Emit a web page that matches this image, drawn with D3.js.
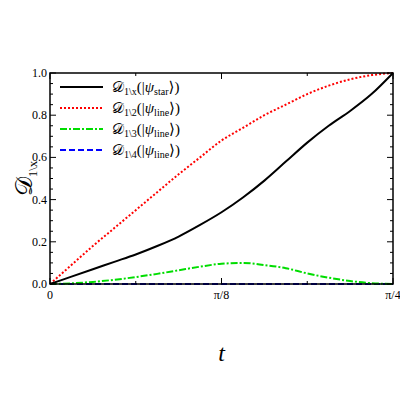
<!DOCTYPE html>
<html><head><meta charset="utf-8">
<script src="https://cdn.jsdelivr.net/npm/d3@7"></script>
<style>body{margin:0;background:#fff}text{font-family:"Liberation Serif","DejaVu Serif",serif}</style>
</head><body><div id="c"></div>
<script>
// t in units of pi/4, sampled every 1/16
const tVals = d3.range(17).map(k => k / 16);
const blackVals = [0, .035, .07, .105, .14, .18, .225, .28, .34, .41, .49, .58, .67, .75, .82, .90, 1.0];
const redVals = [0, .09, .18, .265, .35, .435, .52, .60, .68, .74, .80, .85, .90, .94, .97, .99, 1.0];
const greenVals = [0, .003, .01, .02, .033, .048, .065, .082, .096, .1, .09, .075, .05, .03, .014, .004, 0];
const blueVals = tVals.map(() => 0);
const xTicks = [0, 0.5, 1];
const xTickLabels = ['0', 'π/8', 'π/4'];
const yTicks = [0, 0.2, 0.4, 0.6, 0.8, 1.0];

const series = [
  {vals: blueVals, color: '#0000ff', dash: '6,3', sub: '4', psi: 'line'},
  {vals: greenVals, color: '#00dd00', dash: '7,2,2,2', sub: '3', psi: 'line'},
  {vals: redVals, color: '#ff0000', dash: '2,2', sub: '2', psi: 'line'},
  {vals: blackVals, color: '#000000', dash: null, sub: 'x', psi: 'star'}
];

const W = 400, H = 400, L = 50, R = 393, T = 73, B = 284;
const svg = d3.select('#c').append('svg').attr('width', W).attr('height', H);
const x = d3.scaleLinear().domain([0, 1]).range([L, R]);
const y = d3.scaleLinear().domain([0, 1]).range([B, T]);

const line = d3.line().x((d, i) => x(tVals[i])).y(d => y(d)).curve(d3.curveMonotoneX);
const g = svg.append('g');
series.forEach(s => g.append('path').attr('d', line(s.vals)).attr('fill', 'none')
  .attr('stroke', s.color).attr('stroke-width', 2).attr('stroke-dasharray', s.dash));

// frame
svg.append('rect').attr('x', L).attr('y', T).attr('width', R - L).attr('height', B - T)
  .attr('fill', 'none').attr('stroke', '#000').attr('stroke-width', 1.5);

const minorX = d3.range(0, 1.0001, 1 / 4);
const minorY = d3.range(0, 1.0001, 0.05);
minorX.forEach(v => {
  const major = xTicks.some(m => Math.abs(m - v) < 1e-6);
  const len = major ? 6 : 3;
  svg.append('line').attr('x1', x(v)).attr('x2', x(v)).attr('y1', B).attr('y2', B - len).attr('stroke', '#000');
  svg.append('line').attr('x1', x(v)).attr('x2', x(v)).attr('y1', T).attr('y2', T + len).attr('stroke', '#000');
});
minorY.forEach(v => {
  const major = Math.abs(v * 5 - Math.round(v * 5)) < 1e-6;
  const len = major ? 6 : 3;
  svg.append('line').attr('y1', y(v)).attr('y2', y(v)).attr('x1', L).attr('x2', L + len).attr('stroke', '#000');
  svg.append('line').attr('y1', y(v)).attr('y2', y(v)).attr('x1', R).attr('x2', R - len).attr('stroke', '#000');
});
xTicks.forEach((v, i) => svg.append('text').attr('x', x(v)).attr('y', B + 15).attr('text-anchor', 'middle')
  .attr('font-size', 12).text(xTickLabels[i]));
yTicks.forEach(v => svg.append('text').attr('x', L - 3).attr('y', y(v) + 4).attr('text-anchor', 'end')
  .attr('font-size', 12).text(v.toFixed(1)));

svg.append('text').attr('x', (L + R) / 2).attr('y', 361).attr('text-anchor', 'middle')
  .attr('font-size', 24).attr('font-style', 'italic').attr('font-family', 'Liberation Serif').text('t');
const yl = svg.append('text').attr('transform', `translate(32,${(T + B) / 2}) rotate(-90)`)
  .attr('text-anchor', 'middle').attr('font-size', 24);
yl.append('tspan').text('𝒟');
yl.append('tspan').attr('font-size', 13).attr('dy', 5).text('1\\x');

// legend
const leg = series.slice().reverse();
leg.forEach((s, i) => {
  const ly = 87 + i * 21;
  svg.append('line').attr('x1', 60).attr('x2', 103).attr('y1', ly).attr('y2', ly)
    .attr('stroke', s.color).attr('stroke-width', 2).attr('stroke-dasharray', s.dash);
  const t = svg.append('text').attr('x', 112).attr('y', ly + 5).attr('font-size', 15);
  t.append('tspan').text('𝒟');
  t.append('tspan').attr('font-size', 10).attr('dy', 3).text('1\\' + s.sub);
  t.append('tspan').attr('dy', -3).text('(|');
  t.append('tspan').attr('font-style', 'italic').text('ψ');
  t.append('tspan').attr('font-size', 10).attr('dy', 3).text(s.psi);
  t.append('tspan').attr('dy', -3).text('⟩)');
});
</script></body></html>
